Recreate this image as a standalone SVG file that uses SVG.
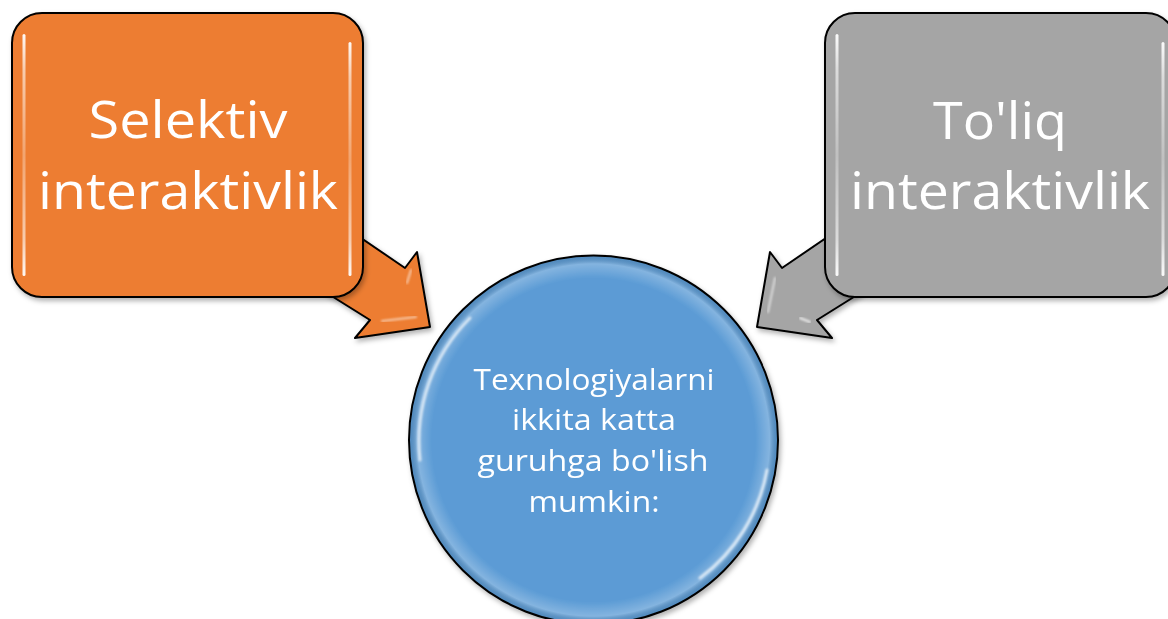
<svg xmlns="http://www.w3.org/2000/svg" width="1168" height="619" viewBox="0 0 1168 619">
<defs>
<linearGradient id="hl" x1="0" y1="0" x2="0" y2="1">
<stop offset="0" stop-color="#fff" stop-opacity="0.95"/>
<stop offset="0.15" stop-color="#fff" stop-opacity="0.6"/>
<stop offset="0.5" stop-color="#fff" stop-opacity="0.3"/>
<stop offset="0.85" stop-color="#fff" stop-opacity="0.6"/>
<stop offset="1" stop-color="#fff" stop-opacity="0.95"/>
</linearGradient>
<radialGradient id="ring" cx="0.5" cy="0.5" r="0.5">
<stop offset="0.88" stop-color="#fff" stop-opacity="0"/>
<stop offset="0.96" stop-color="#fff" stop-opacity="0.25"/>
<stop offset="1" stop-color="#000" stop-opacity="0.1"/>
</radialGradient>
<filter id="sh" x="-10%" y="-10%" width="120%" height="120%">
<feDropShadow dx="2" dy="3" stdDeviation="2.5" flood-color="#000" flood-opacity="0.3"/>
</filter>
<filter id="blur"><feGaussianBlur stdDeviation="0.8"/></filter>
</defs>
<style>
.lbl{font-family:"Open Sans","Noto Sans","Liberation Sans",sans-serif;fill:#fff;text-anchor:middle}
.big{font-size:52px}
.small{font-size:29px}
.edge{stroke:#000;stroke-width:2;stroke-linejoin:round}
.shine{fill:url(#hl)}
.gl{fill:none;stroke:#fff;stroke-linecap:round;filter:url(#blur)}
</style>
<rect width="1168" height="619" fill="#fff"/>
<g id="connectors">
<g id="arrow-left" filter="url(#sh)">
<polygon class="edge" fill="#ED7D31" points="320,210 405,268 417,252 430,327 355,338 370,320 290,270"/>
<line class="gl" x1="411" y1="270" x2="407" y2="283" stroke-opacity="0.6" stroke-width="2"/>
<line class="gl" x1="382" y1="321" x2="416" y2="317" stroke-opacity="0.6" stroke-width="2"/>
</g>
<g id="arrow-right" filter="url(#sh)">
<polygon class="edge" fill="#A5A5A5" points="867,210 782,268 770,252 757,327 832,338 817,320 897,270"/>
<line class="gl" x1="775" y1="278" x2="768" y2="312" stroke-opacity="0.6" stroke-width="2"/>
<line class="gl" x1="800" y1="318" x2="810" y2="322" stroke-opacity="0.8" stroke-width="2"/>
</g>
</g>
<g id="node-selektiv" filter="url(#sh)">
<rect class="edge" x="12" y="13" width="351" height="284" rx="30" fill="#ED7D31"/>
<rect class="shine" x="22.5" y="34" width="3" height="242" rx="1.5"/>
<rect class="shine" x="348.5" y="42" width="3" height="234" rx="1.5"/>
<text class="lbl big" x="188" y="138" textLength="199" lengthAdjust="spacingAndGlyphs">Selektiv</text>
<text class="lbl big" x="188" y="209" textLength="300" lengthAdjust="spacingAndGlyphs">interaktivlik</text>
</g>
<g id="node-toliq" filter="url(#sh)">
<rect class="edge" x="825" y="13" width="351" height="284" rx="30" fill="#A5A5A5"/>
<rect class="shine" x="835.5" y="34" width="3" height="242" rx="1.5"/>
<rect class="shine" x="1161.5" y="42" width="3" height="234" rx="1.5"/>
<text class="lbl big" x="1000" y="139" textLength="134" lengthAdjust="spacingAndGlyphs">To'liq</text>
<text class="lbl big" x="1000" y="209" textLength="300" lengthAdjust="spacingAndGlyphs">interaktivlik</text>
</g>
<g id="node-center" filter="url(#sh)">
<circle class="edge" cx="593.5" cy="440" r="184.5" fill="#5B9BD5"/>
<circle cx="593.5" cy="440" r="183.5" fill="url(#ring)"/>
<path class="gl" d="M 420 460 A 174 174 0 0 1 470 318" stroke-opacity="0.7" stroke-width="3"/>
<path class="gl" d="M 767 470 A 174 174 0 0 1 700 578" stroke-opacity="0.7" stroke-width="3"/>
<text class="lbl small" x="594" y="390" textLength="241" lengthAdjust="spacingAndGlyphs">Texnologiyalarni</text>
<text class="lbl small" x="594" y="430" textLength="164" lengthAdjust="spacingAndGlyphs">ikkita katta</text>
<text class="lbl small" x="593" y="471" textLength="231" lengthAdjust="spacingAndGlyphs">guruhga bo'lish</text>
<text class="lbl small" x="594" y="512" textLength="131" lengthAdjust="spacingAndGlyphs">mumkin:</text>
</g>
</svg>
